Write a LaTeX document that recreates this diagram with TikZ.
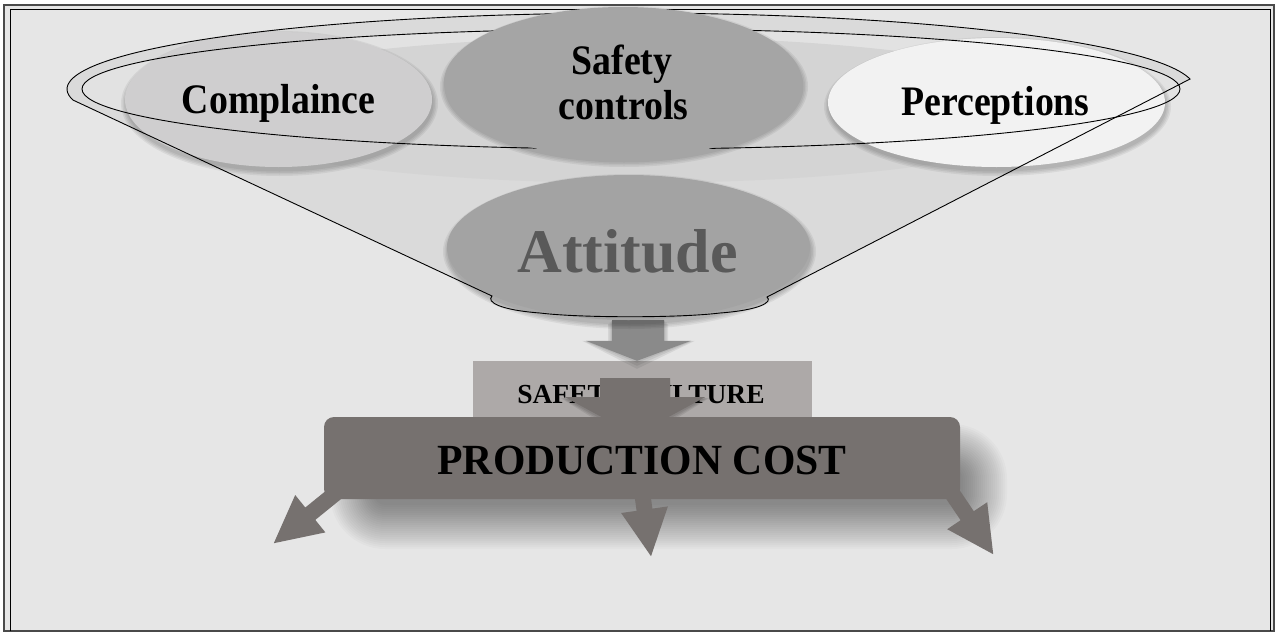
\documentclass[tikz,border=0pt]{standalone}
\usepackage{fontspec}
\setmainfont{Liberation Serif}
\usetikzlibrary{shapes.geometric,calc}

\definecolor{pagegray}{HTML}{E6E6E6}
\definecolor{framegray}{HTML}{4A4A4A}
\definecolor{funnelgray}{HTML}{DADADA}
\definecolor{innergray}{HTML}{E2E2E2}
\definecolor{faintgray}{HTML}{D4D4D4}
\definecolor{compgray}{HTML}{CFCECF}
\definecolor{safegray}{HTML}{A5A5A5}
\definecolor{attgray}{HTML}{A3A3A3}
\definecolor{percgray}{HTML}{F2F2F2}
\definecolor{culturegray}{HTML}{ADA9A8}
\definecolor{costgray}{HTML}{76716F}
\definecolor{arrowgray}{HTML}{8A8A8A}
\definecolor{attext}{HTML}{595959}

% outline of the funnel: top rim arc, two sides and the rounded bottom
\newcommand\funnelshape{(1190,79) arc[start angle=-7.6, end angle=-188.3, x radius=564, y radius=76]
  -- (492,296) .. controls (486,302) and (500,310) .. (540,313)
  .. controls (580,318) and (680,318) .. (720,313)
  .. controls (760,310) and (773,302) .. (767,297) -- cycle}

% soft drop shadow under an ellipse: centre x, centre y, x radius, y radius
\newcommand\ellshadow[4]{%
  \foreach \k in {5,3.5,2,0.5}{%
    \fill[black, opacity=0.06] (#1+1,#2+4) ellipse [x radius=#3+\k, y radius=#4+\k];}}

% tall, narrow bold lettering of the funnel labels
\newcommand\tallbold[1]{\scalebox{0.9}[1]{#1}}

\tikzset{
  bubble/.style={ellipse, draw=none, inner sep=0pt},
  lbl/.style={font=\bfseries\fontsize{42}{48}\selectfont, inner sep=0pt, anchor=base},
  rimline/.style={draw=black, line width=0.9pt},
  costarrow/.style={fill=costgray, draw=none},
}

\begin{document}
\begin{tikzpicture}[x=1pt,y=-1pt]
\useasboundingbox (0,0) rectangle (1276,632);
\fill[white] (0,0) rectangle (1276,632);
\fill[pagegray] (4,5) rectangle (1274,631);
\draw[line width=1.4pt, draw=framegray] (4,5) rectangle (1274,631);
\draw[line width=0.7pt] (10,631) -- (10,9.5) -- (1270,9.5) -- (1270,631);

% ---- lower block: safety culture and production cost
\node[rectangle, fill=culturegray, minimum width=339, minimum height=69, inner sep=0pt] (sc) at (642.5,395.5) {};
\node[font=\bfseries\fontsize{27.5}{30}\selectfont, inner sep=0pt, anchor=base] (sctext) at (641,403) {SAFETY CULTURE};

% arrow from safety culture into production cost, with a soft shadow
\begin{scope}[shift={(sc.south)}]
  \foreach \s in {4,2.5,1}{
    \fill[black, opacity=0.08, shift={(0,\s+1)}]
      (-42.5,-52) -- (27.5,-52) -- (27.5,-33) -- (62.5+\s,-33-\s) -- (-7.5,5+\s) -- (-77.5-\s,-33-\s) -- (-42.5,-33) -- cycle;}
  \fill[costarrow]
    (-42.5,-52) -- (27.5,-52) -- (27.5,-33) -- (62.5,-33) -- (-7.5,5) -- (-77.5,-33) -- (-42.5,-33) -- cycle;
\end{scope}

% soft shadow of the production cost box
\foreach \r in {-22,-20,...,22}{
  \pgfmathsetmacro\rc{\r+33}
  \fill[black, opacity=0.018, rounded corners=\rc pt] (352-\r,446-\r) rectangle (985+\r,527+\r);}

\node[rectangle, rounded corners=10pt, fill=costgray, minimum width=636, minimum height=82, inner sep=0pt]
      (pc) at (642,458) {};
\node[font=\bfseries\fontsize{43}{46}\selectfont, inner sep=0pt, anchor=base] (pctext) at (642,474)
      {\scalebox{0.97}[1]{PRODUCTION COST}};

% three arrows leaving production cost
\begin{scope}[shift={(pc.south west)}]
  \fill[costarrow] (12.6,-16.9) -- (-18.5,8.3) -- (-28.6,-4.2) -- (-50,44) -- (1.6,33.2) -- (-8.5,20.7) -- (22.6,-4.5) -- cycle;
\end{scope}
\begin{scope}[shift={(pc.south)}]
  \fill[costarrow] (-8.9,-13.1) -- (-5.4,11.6) -- (-20.9,13.8) -- (9,57) -- (25.9,7.2) -- (10.4,9.4) -- (7,-15.4) -- cycle;
\end{scope}
\begin{scope}[shift={(pc.south east)}]
  \fill[costarrow] (-6,-17) -- (13.6,12) -- (27,3) -- (33,55) -- (-13,30) -- (0.4,21) -- (-19.2,-8) -- cycle;
\end{scope}

% arrow from attitude down to safety culture
\begin{scope}[shift={(sc.north)}]
  \foreach \s in {4,2.5,1}{
    \fill[black, opacity=0.07, shift={(0,\s)}]
      (-30.5-\s,-41) -- (21.5+\s,-41) -- (21.5+\s,-20) -- (48.5+\s,-20-\s) -- (-5.5,\s) -- (-56.5-\s,-20-\s) -- (-30.5-\s,-20) -- cycle;}
  \fill[arrowgray]
    (-30.5,-41) -- (21.5,-41) -- (21.5,-20) -- (48.5,-20) -- (-5.5,0) -- (-56.5,-20) -- (-30.5,-20) -- cycle;
\end{scope}

% ---- funnel
\fill[funnelgray] \funnelshape;
\fill[innergray] (631,89) ellipse [x radius=549, y radius=60];
\fill[faintgray] (632,110) ellipse [x radius=450, y radius=73];

\ellshadow{278.5}{99.5}{153.5}{67.5}
\node[bubble, fill=compgray, minimum width=307, minimum height=135] (comp) at (278.5,99.5) {};
\ellshadow{996.5}{102.5}{168.5}{64.5}
\node[bubble, fill=percgray, minimum width=337, minimum height=129] (perc) at (996.5,102.5) {};
\ellshadow{628.5}{247.5}{181.5}{72.5}
\node[bubble, fill=attgray, minimum width=363, minimum height=145] (att) at (628.5,247.5) {};

\draw[rimline] \funnelshape;
\draw[rimline] (631,89) ellipse [x radius=549, y radius=60];

\ellshadow{623}{82.5}{179}{75.5}
\node[bubble, fill=safegray, minimum width=358, minimum height=151] (safe) at (623,82.5) {};

% ---- labels
\node[lbl] (complbl) at (278.5,113) {\tallbold{Complaince}};
\node[lbl] (safelbl1) at (622,74) {\tallbold{Safety}};
\node[lbl] (safelbl2) at (623.5,119.3) {\tallbold{controls}};
\node[lbl] (perclbl) at (995.5,115) {\tallbold{Perceptions}};
\node[font=\bfseries\fontsize{62}{66}\selectfont, text=attext, inner sep=0pt, anchor=base] (attlbl) at (627.5,272) {Attitude};
\end{tikzpicture}
\end{document}
